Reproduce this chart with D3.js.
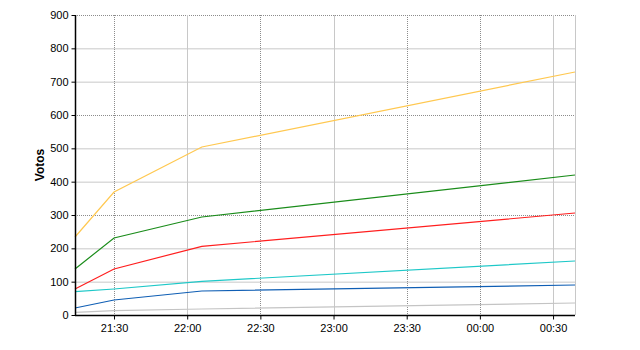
<!DOCTYPE html>
<html><head><meta charset="utf-8">
<script src="https://cdn.jsdelivr.net/npm/d3@7"></script>
<style>body{margin:0;background:#fff}svg{display:block;font-family:"Liberation Sans",Arial,sans-serif}</style>
</head><body>
<svg id="c" width="640" height="350"></svg>
<script>
const times = ["21:14","21:30","22:06","00:39"];
const yellow = [234, 369, 504, 729];
const green  = [138, 231, 294, 420];
const red    = [78, 138, 206, 306];
const cyan   = [70, 78, 101, 162];
const blue   = [21, 45, 72, 90];
const gray   = [8, 13, 18, 36];
const xTicks = ["21:30","22:00","22:30","23:00","23:30","00:00","00:30"];
const dottedX = ["21:30","22:30","23:30","00:00"];
const yTicks = [0,100,200,300,400,500,600,700,800,900];
const dottedY = [300,600,900];

const parse = s => { const [h,m] = s.split(":").map(Number); const d = new Date(2000,0,h<12?2:1,h,m); return d; };
const series = [
  {v: gray, c:"#c4c4c4"},
  {v: blue, c:"#0f5eb4"},
  {v: cyan, c:"#1ec8c8"},
  {v: red, c:"#ff1e1e"},
  {v: green, c:"#1a8c1a"},
  {v: yellow, c:"#ffc850"}
];
const m = {l:75, r:575, t:15, b:315};
const svg = d3.select("#c");
const x = d3.scaleTime().domain([parse(times[0]), parse(times[times.length-1])]).range([m.l, m.r]);
const y = d3.scaleLinear().domain([0,900]).range([m.b, m.t]);

// grid
const g = svg.append("g");
yTicks.forEach(t => {
  if (t===0) return;
  const dot = dottedY.includes(t);
  g.append("line").attr("x1",m.l).attr("x2",m.r).attr("y1",y(t)+0.5).attr("y2",y(t)+0.5)
   .attr("stroke", dot?"#8c8c8c":"#c8c8c8").attr("stroke-dasharray", dot?"1,1":null);
});
xTicks.forEach(t => {
  const dot = dottedX.includes(t);
  const px = Math.round(x(parse(t)))+0.5;
  g.append("line").attr("x1",px).attr("x2",px).attr("y1",m.t).attr("y2",m.b)
   .attr("stroke", dot?"#8c8c8c":"#c8c8c8").attr("stroke-dasharray", dot?"1,1":null);
});
g.append("line").attr("x1",m.r+0.5).attr("x2",m.r+0.5).attr("y1",m.t).attr("y2",m.b).attr("stroke","#c8c8c8");

// lines
const line = d3.line().x((d,i)=>x(parse(times[i]))).y(d=>y(d));
series.forEach(s => {
  svg.append("path").attr("d", line(s.v)).attr("fill","none").attr("stroke", s.c).attr("stroke-width",1.2);
});

// axes
const yAxis = d3.axisLeft(y).tickValues(yTicks).tickSize(4).tickPadding(3);
const ya = svg.append("g").attr("transform",`translate(${m.l+0.5},0)`).call(yAxis);
const xAxis = d3.axisBottom(x).tickValues(xTicks.map(parse)).tickFormat(d3.timeFormat("%H:%M")).tickSize(4).tickPadding(5);
const xa = svg.append("g").attr("transform",`translate(0,${m.b+0.5})`).call(xAxis);
[ya,xa].forEach(a => {
  a.select(".domain").attr("stroke","#000").attr("stroke-width",1.5);
  a.selectAll(".tick line").attr("stroke","#000");
  a.selectAll("text").attr("font-size",11).attr("fill","#000").attr("font-family","Liberation Sans, Arial, sans-serif");
});
xa.select(".domain").attr("d",`M${m.l},0H${m.r}`);
ya.select(".domain").attr("d",`M0,${m.b}V${m.t}`);

svg.append("text").attr("transform",`translate(44,${(m.t+m.b)/2}) rotate(-90)`)
  .attr("text-anchor","middle").attr("font-size",12).attr("font-weight","bold").text("Votos");
</script>
</body></html>
